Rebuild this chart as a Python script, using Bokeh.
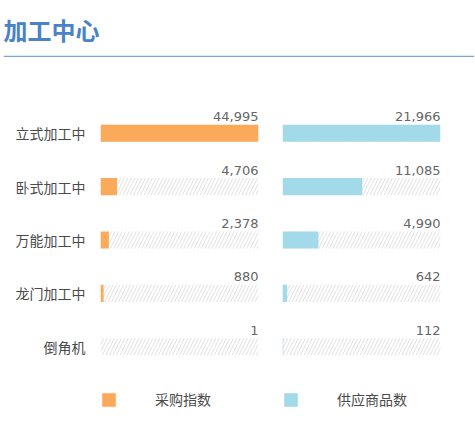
from bokeh.plotting import figure
from bokeh.models import FactorRange, Range1d, Legend, LegendItem, Span
from bokeh.layouts import column, row
from bokeh.embed import file_html
from bokeh.resources import INLINE
from bokeh.core.properties import value

# 数据
title_text = "加工中心"
categories = ["立式加工中", "卧式加工中", "万能加工中", "龙门加工中", "倒角机"]
purchase_index = [44995, 4706, 2378, 880, 1]
supplier_count = [21966, 11085, 4990, 642, 112]
series_names = ["采购指数", "供应商品数"]
series_colors = ["#FBAA5A", "#A3DAEA"]

CJK = "Noto Sans CJK SC"
factors = list(reversed(categories))


def header():
    # 标题 + 蓝色分隔线
    p = figure(width=474, height=57, x_range=(0, 1), y_range=(0, 6),
               x_axis_location=None, y_axis_location=None,
               output_backend="svg", toolbar_location=None,
               min_border_left=3, min_border_right=0, min_border_bottom=0,
               min_border_top=51)
    p.title.text = title_text
    p.title.text_font = CJK
    p.title.text_font_size = "24px"
    p.title.text_color = "#4A82C8"
    p.title.text_font_style = "bold"
    p.outline_line_color = None
    p.grid.visible = False
    p.add_layout(Span(location=1, dimension="width",
                      line_color="#7AA3DA", line_width=1.5))
    return p


def panel(values, color, name, show_labels, border_left, border_right):
    vmax = max(values)
    p = figure(frame_width=158, frame_height=299,
               x_range=Range1d(0, vmax),
               y_range=FactorRange(factors=factors, range_padding=0.30,
                                   range_padding_units="absolute"),
               x_axis_location=None,
               output_backend="svg", toolbar_location=None,
               min_border_left=border_left, min_border_right=border_right,
               min_border_top=33, min_border_bottom=0)
    p.outline_line_color = None
    p.grid.visible = False

    # 底纹
    p.hbar(y=categories, left=0, right=vmax, height=0.32,
           fill_color="white", line_color=None,
           hatch_pattern="/", hatch_color="#E0E0E0", hatch_scale=7, hatch_weight=1)
    bars = p.hbar(y=categories, left=0, right=values, height=0.32,
                  fill_color=color, line_color=None)
    p.text(x=[vmax] * len(values), y=categories,
           text=["{:,}".format(v) for v in values],
           text_align="right", text_baseline="bottom", y_offset=-12,
           text_font=value("DejaVu Sans"), text_font_size="13px", text_color="#666666")

    if show_labels:
        p.yaxis.axis_line_color = None
        p.yaxis.major_tick_line_color = None
        p.yaxis.minor_tick_line_color = None
        p.yaxis.major_tick_out = 0
        p.yaxis.major_label_standoff = 15
        p.yaxis.major_label_text_font = CJK
        p.yaxis.major_label_text_font_size = "14px"
        p.yaxis.major_label_text_color = "#4A4A4A"
    else:
        p.yaxis.visible = False

    legend = Legend(items=[LegendItem(label=name, renderers=[bars])],
                    location="top_left", orientation="horizontal",
                    glyph_width=17, glyph_height=17, label_height=17,
                    label_standoff=38,
                    label_text_font=CJK, label_text_font_size="14px",
                    label_text_color="#4A4A4A", padding=0, margin=0,
                    border_line_color=None, background_fill_alpha=0)
    p.add_layout(legend, "below")
    return p


left = panel(purchase_index, series_colors[0], series_names[0], True, 100, 24)
right = panel(supplier_count, series_colors[1], series_names[1], False, 0, 20)

layout = column(header(), row(left, right))

open("out.html", "w").write(file_html(layout, INLINE))
